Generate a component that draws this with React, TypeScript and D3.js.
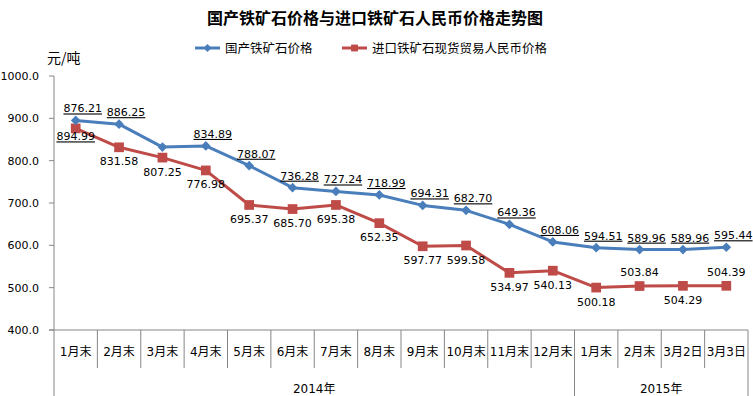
import React, { useEffect, useRef } from 'react';
import * as d3 from 'd3';

const categories = ['1月末', '2月末', '3月末', '4月末', '5月末', '6月末', '7月末', '8月末', '9月末', '10月末', '11月末', '12月末', '1月末', '2月末', '3月2日', '3月3日'];
const years = [
  { label: '2014年', from: 0, to: 11 },
  { label: '2015年', from: 12, to: 15 },
];
const domesticValues = [894.99, 886.25, 832.0, 834.89, 788.07, 736.28, 727.24, 718.99, 694.31, 682.7, 649.36, 608.06, 594.51, 589.96, 589.96, 595.44];
const domesticLabels = ['876.21', '886.25', '', '834.89', '788.07', '736.28', '727.24', '718.99', '694.31', '682.70', '649.36', '608.06', '594.51', '589.96', '589.96', '595.44'];
const importValues = [876.21, 831.58, 807.25, 776.98, 695.37, 685.7, 695.38, 652.35, 597.77, 599.58, 534.97, 540.13, 500.18, 503.84, 504.29, 504.39];
const importLabels = ['894.99', '831.58', '807.25', '776.98', '695.37', '685.70', '695.38', '652.35', '597.77', '599.58', '534.97', '540.13', '500.18', '503.84', '504.29', '504.39'];
const importLabelAbove = [false, false, false, false, false, false, false, false, false, false, false, false, false, true, false, true];
const yTicks = [400, 500, 600, 700, 800, 900, 1000];

const BLUE = '#4A7EBB';
const RED = '#BE4B48';
const FONT = '"DejaVu Sans", "Noto Sans CJK SC", sans-serif';

export default function App() {
  const svgRef = useRef<SVGSVGElement>(null);

  useEffect(() => {
    if (!svgRef.current) return;
    const width = 753;
    const height = 396;
    const left = 54, right = 748, top = 76, bottom = 330;

    const svg = d3.select(svgRef.current);
    svg.selectAll('*').remove();

    const x = d3.scaleBand<number>()
      .domain(d3.range(categories.length))
      .range([left, right]);
    const cx = (i: number) => (x(i) as number) + x.bandwidth() / 2;
    const y = d3.scaleLinear().domain([400, 1000]).range([bottom, top]);

    svg.append('rect').attr('width', width).attr('height', height).attr('fill', '#fff');

    // title
    svg.append('text')
      .attr('x', 375).attr('y', 24)
      .attr('text-anchor', 'middle')
      .style('font-family', '"Noto Sans CJK SC", sans-serif')
      .style('font-size', '16px')
      .style('font-weight', '700')
      .text('国产铁矿石价格与进口铁矿石人民币价格走势图');

    // legend
    const legend = [
      { name: '国产铁矿石价格', color: BLUE, shape: 'diamond', x: 195 },
      { name: '进口铁矿石现货贸易人民币价格', color: RED, shape: 'square', x: 342 },
    ];
    legend.forEach(l => {
      const g = svg.append('g').attr('transform', `translate(${l.x},48)`);
      g.append('line').attr('x1', 0).attr('x2', 25).attr('stroke', l.color).attr('stroke-width', 3);
      g.append('path')
        .attr('transform', 'translate(12.5,0)')
        .attr('d', d3.symbol(l.shape === 'diamond' ? d3.symbolDiamond2 : d3.symbolSquare2, l.shape === 'diamond' ? 40 : 60)())
        .attr('fill', l.color);
      g.append('text').attr('x', 30).attr('y', 5)
        .style('font-family', FONT).style('font-size', '12.5px').attr('fill', '#000')
        .text(l.name);
    });

    // unit
    svg.append('text').attr('x', 47).attr('y', 63)
      .style('font-family', '"Noto Sans CJK SC", sans-serif').style('font-size', '14px')
      .text('元/吨');

    // y axis
    svg.append('line').attr('x1', left).attr('x2', left).attr('y1', top).attr('y2', height)
      .attr('stroke', '#868686');
    yTicks.forEach(t => {
      svg.append('line').attr('x1', left - 5).attr('x2', left).attr('y1', y(t)).attr('y2', y(t)).attr('stroke', '#868686');
      svg.append('text').attr('x', 39).attr('y', y(t) + 4)
        .attr('text-anchor', 'end')
        .style('font-family', FONT).style('font-size', '11px').attr('fill', '#000')
        .text(d3.format('.1f')(t));
    });

    // x axis
    svg.append('line').attr('x1', left - 5).attr('x2', right).attr('y1', bottom).attr('y2', bottom).attr('stroke', '#868686');
    categories.forEach((c, i) => {
      const bx = (x(i) as number) + x.bandwidth();
      const isYearEdge = years.some(yr => yr.to === i);
      svg.append('line').attr('x1', bx).attr('x2', bx).attr('y1', bottom)
        .attr('y2', isYearEdge ? height : 368).attr('stroke', '#868686');
      svg.append('text').attr('x', cx(i)).attr('y', 356)
        .attr('text-anchor', 'middle')
        .style('font-family', FONT).style('font-size', '12px').attr('fill', '#000')
        .text(c);
    });
    years.forEach(yr => {
      const mid = ((x(yr.from) as number) + (x(yr.to) as number) + x.bandwidth()) / 2;
      svg.append('text').attr('x', mid).attr('y', 393)
        .attr('text-anchor', 'middle')
        .style('font-family', FONT).style('font-size', '12px').attr('fill', '#000')
        .text(yr.label);
    });

    const line = d3.line<number>().x((_, i) => cx(i)).y(d => y(d));

    // import series (red)
    svg.append('path').datum(importValues).attr('d', line)
      .attr('fill', 'none').attr('stroke', RED).attr('stroke-width', 3).attr('stroke-linejoin', 'round');
    importValues.forEach((v, i) => {
      svg.append('path')
        .attr('transform', `translate(${cx(i)},${y(v)})`)
        .attr('d', d3.symbol(d3.symbolSquare2, 120)())
        .attr('fill', RED);
    });

    // domestic series (blue)
    svg.append('path').datum(domesticValues).attr('d', line)
      .attr('fill', 'none').attr('stroke', BLUE).attr('stroke-width', 3).attr('stroke-linejoin', 'round');
    domesticValues.forEach((v, i) => {
      svg.append('path')
        .attr('transform', `translate(${cx(i)},${y(v)})`)
        .attr('d', d3.symbol(d3.symbolDiamond2, 60)())
        .attr('fill', BLUE);
    });

    // labels
    domesticValues.forEach((v, i) => {
      if (!domesticLabels[i]) return;
      svg.append('text').attr('x', cx(i) + 7).attr('y', y(v) - 8)
        .attr('text-anchor', 'middle')
        .style('font-family', FONT).style('font-size', '11px')
        .style('text-decoration', 'underline')
        .attr('fill', '#000')
        .text(domesticLabels[i]);
    });
    importValues.forEach((v, i) => {
      const above = importLabelAbove[i];
      const dy = above ? -10 : i === 0 ? 12 : 18;
      svg.append('text').attr('x', cx(i)).attr('y', y(v) + dy)
        .attr('text-anchor', 'middle')
        .style('font-family', FONT).style('font-size', '11px')
        .style('text-decoration', i === 0 ? 'underline' : 'none')
        .attr('fill', '#000')
        .text(importLabels[i]);
    });
  }, []);

  return (
    <svg ref={svgRef} width={753} height={396} style={{ display: 'block', position: 'absolute', left: 0, top: 0 }} />
  );
}
